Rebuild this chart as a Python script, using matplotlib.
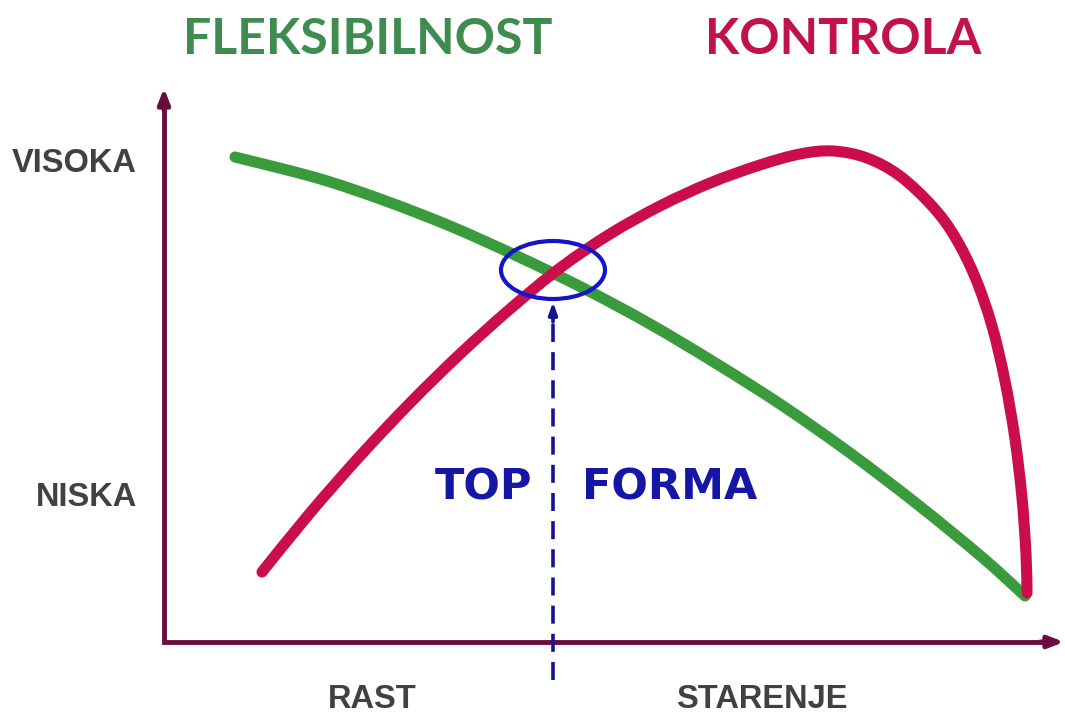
import matplotlib
matplotlib.use('Agg')
import matplotlib.pyplot as plt
from matplotlib.patches import Ellipse, PathPatch
from matplotlib.path import Path

# ---------------- data (pixel coords) ----------------
green_x = [235, 317, 383, 450, 517, 583, 650, 717, 783, 850, 917, 983, 1025]
green_y = [157, 178, 200, 226, 256, 288, 324, 364, 406, 453, 504, 558, 596]

red_x = [262, 310, 360, 410, 460, 510, 560, 610, 660, 710, 760, 800, 833, 867, 900,
         933, 955, 975, 992, 1005, 1015, 1022, 1026, 1027]
red_y = [572, 513, 456, 403, 354, 309, 268, 234, 206, 183, 165, 154, 151, 158, 176,
         207, 237, 277, 326, 381, 439, 498, 554, 593]

y_labels = ['VISOKA', 'NISKA']
x_labels = ['RAST', 'STARENJE']
titles = ['FLEKSIBILNOST', 'KONTROLA']
mid_text = ['TOP', 'FORMA']

# ---------------- colours ----------------
green = '#3a9b3c'
green_txt = '#3e8c50'
red = '#cc0d4b'
red_txt = '#c1124c'
axis_col = '#690d40'
blue = '#1414c8'
navy = '#141490'
gray = '#414141'


def smooth_path(xs, ys):
    # Catmull-Rom through the read points, drawn as cubic bezier segments
    pts = list(zip(xs, ys))
    verts = [pts[0]]
    codes = [Path.MOVETO]
    for i in range(len(pts) - 1):
        p0 = pts[i - 1] if i > 0 else pts[i]
        p1 = pts[i]
        p2 = pts[i + 1]
        p3 = pts[i + 2] if i + 2 < len(pts) else pts[i + 1]
        c1 = (p1[0] + (p2[0] - p0[0]) / 6, p1[1] + (p2[1] - p0[1]) / 6)
        c2 = (p2[0] - (p3[0] - p1[0]) / 6, p2[1] - (p3[1] - p1[1]) / 6)
        verts += [c1, c2, p2]
        codes += [Path.CURVE4] * 3
    return Path(verts, codes)


fig = plt.figure(figsize=(10.65, 7.18), dpi=100)
ax = fig.add_axes([0, 0, 1, 1])
ax.set_xlim(0, 1065)
ax.set_ylim(718, 0)
ax.axis('off')

# axes with arrows
ax.plot([164, 164, 1050], [100, 642, 642], color=axis_col, lw=3.5,
        solid_joinstyle='miter', solid_capstyle='butt')
ax.annotate('', xy=(164, 88), xytext=(164, 110),
            arrowprops=dict(arrowstyle='-|>,head_length=0.9,head_width=0.35',
                            color=axis_col, lw=3.5, shrinkA=0, shrinkB=0))
ax.annotate('', xy=(1064, 642), xytext=(1040, 642),
            arrowprops=dict(arrowstyle='-|>,head_length=0.9,head_width=0.35',
                            color=axis_col, lw=3.5, shrinkA=0, shrinkB=0))

# curves
ax.add_patch(PathPatch(smooth_path(green_x, green_y), fill=False, edgecolor=green,
                       lw=8, capstyle='round', joinstyle='round'))
ax.add_patch(PathPatch(smooth_path(red_x, red_y), fill=False, edgecolor=red,
                       lw=8, capstyle='round', joinstyle='round'))

# highlight ellipse + dashed arrow
ax.add_patch(Ellipse((553, 270), 104, 58, fill=False, edgecolor=blue, lw=3))
ax.plot([553, 553], [680, 318], color=navy, lw=2.6, linestyle=(0, (5, 2.8)))
ax.annotate('', xy=(553, 302), xytext=(553, 322),
            arrowprops=dict(arrowstyle='-|>,head_length=0.7,head_width=0.25',
                            color=navy, lw=2.6, shrinkA=0, shrinkB=0))

# texts
ax.text(368, 40, titles[0], color=green_txt, fontsize=36, fontweight='bold',
        family='Lato', ha='center', va='center')
ax.text(843, 40, titles[1], color=red_txt, fontsize=36, fontweight='bold',
        family='Lato', ha='center', va='center')

lab_font = ['Liberation Sans']
ax.text(137, 163, y_labels[0], color=gray, fontsize=23.5, fontweight='bold',
        family=lab_font, ha='right', va='center')
ax.text(137, 497, y_labels[1], color=gray, fontsize=23.5, fontweight='bold',
        family=lab_font, ha='right', va='center')
ax.text(372, 700, x_labels[0], color=gray, fontsize=23.5, fontweight='bold',
        family=lab_font, ha='center', va='center')
ax.text(762, 700, x_labels[1], color=gray, fontsize=23.5, fontweight='bold',
        family=lab_font, ha='center', va='center')

ax.text(532, 487, mid_text[0], color='#1616a6', fontsize=31, fontweight='bold',
        family='DejaVu Sans', ha='right', va='center')
ax.text(582, 487, mid_text[1], color='#1616a6', fontsize=31, fontweight='bold',
        family='DejaVu Sans', ha='left', va='center')

fig.savefig('out.png', dpi=100)
